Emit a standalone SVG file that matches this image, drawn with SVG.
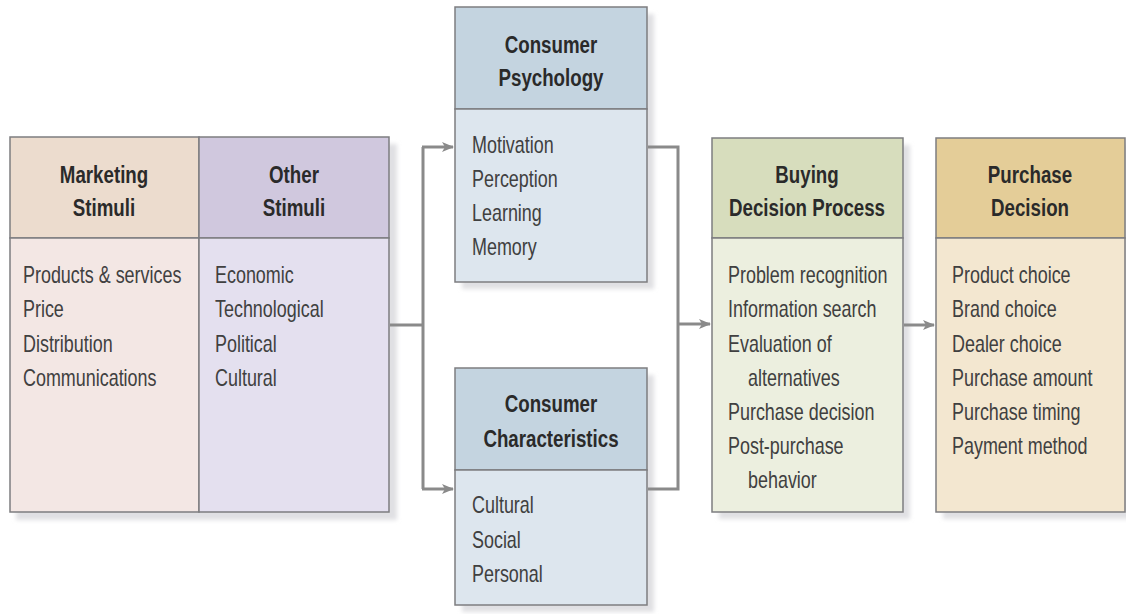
<svg xmlns="http://www.w3.org/2000/svg" width="1126" height="614" viewBox="0 0 1126 614">
<defs>
<filter id="sh" x="-10%" y="-10%" width="130%" height="130%"><feGaussianBlur stdDeviation="2"/></filter>
<marker id="ah" markerWidth="12" markerHeight="10" refX="11" refY="5" orient="auto" markerUnits="userSpaceOnUse">
<path d="M0,0 L12,5 L0,10 L3,5 Z" fill="#8a8a8a"/>
</marker>
<style>
.box{stroke:#7d7d80;stroke-width:1.5}
.shadow{fill:#e0e0e3;filter:url(#sh)}
.h{font-family:"Liberation Sans",Arial,sans-serif;font-weight:bold;font-size:24px;fill:#2a2a2a;text-anchor:middle}
.b{font-family:"Liberation Sans",Arial,sans-serif;font-size:23px;fill:#404040}
.c{fill:none;stroke:#8a8a8a;stroke-width:3}
</style>
</defs>
<rect width="1126" height="614" fill="#ffffff"/>

<g id="stimuli">
<rect class="shadow" x="16" y="144" width="381" height="376"/>
<rect x="10" y="137" width="189" height="101" fill="#ecdcce" class="box"/>
<rect x="10" y="238" width="189" height="274" fill="#f3e7e4" class="box"/>
<rect x="199" y="137" width="190" height="101" fill="#d0c8de" class="box"/>
<rect x="199" y="238" width="190" height="274" fill="#e4e0ef" class="box"/>
<text class="h" transform="translate(104,183) scale(0.78,1)">Marketing</text>
<text class="h" transform="translate(104,216) scale(0.78,1)">Stimuli</text>
<text class="h" transform="translate(294,183) scale(0.78,1)">Other</text>
<text class="h" transform="translate(294,216) scale(0.78,1)">Stimuli</text>
<text class="b" transform="translate(23,283) scale(0.78,1)">Products &amp; services</text>
<text class="b" transform="translate(23,317) scale(0.78,1)">Price</text>
<text class="b" transform="translate(23,352) scale(0.78,1)">Distribution</text>
<text class="b" transform="translate(23,386) scale(0.78,1)">Communications</text>
<text class="b" transform="translate(215,283) scale(0.78,1)">Economic</text>
<text class="b" transform="translate(215,317) scale(0.78,1)">Technological</text>
<text class="b" transform="translate(215,352) scale(0.78,1)">Political</text>
<text class="b" transform="translate(215,386) scale(0.78,1)">Cultural</text>
</g>

<g id="psychology">
<rect class="shadow" x="462" y="14" width="192" height="275"/>
<rect x="455" y="7" width="192" height="102" fill="#c4d4e0" class="box"/>
<rect x="455" y="109" width="192" height="173" fill="#dde6ee" class="box"/>
<text class="h" transform="translate(551,53) scale(0.78,1)">Consumer</text>
<text class="h" transform="translate(551,86) scale(0.78,1)">Psychology</text>
<text class="b" transform="translate(472,153) scale(0.78,1)">Motivation</text>
<text class="b" transform="translate(472,187) scale(0.78,1)">Perception</text>
<text class="b" transform="translate(472,221) scale(0.78,1)">Learning</text>
<text class="b" transform="translate(472,255) scale(0.78,1)">Memory</text>
</g>

<g id="characteristics">
<rect class="shadow" x="462" y="375" width="192" height="237"/>
<rect x="455" y="368" width="192" height="102" fill="#c4d4e0" class="box"/>
<rect x="455" y="470" width="192" height="135" fill="#dde6ee" class="box"/>
<text class="h" transform="translate(551,412) scale(0.78,1)">Consumer</text>
<text class="h" transform="translate(551,447) scale(0.78,1)">Characteristics</text>
<text class="b" transform="translate(472,513) scale(0.78,1)">Cultural</text>
<text class="b" transform="translate(472,548) scale(0.78,1)">Social</text>
<text class="b" transform="translate(472,582) scale(0.78,1)">Personal</text>
</g>

<g id="buying">
<rect class="shadow" x="719" y="145" width="191" height="374"/>
<rect x="712" y="138" width="191" height="100" fill="#d7ddbd" class="box"/>
<rect x="712" y="238" width="191" height="274" fill="#ecefdf" class="box"/>
<text class="h" transform="translate(807,183) scale(0.78,1)">Buying</text>
<text class="h" transform="translate(807,216) scale(0.78,1)">Decision Process</text>
<text class="b" transform="translate(728,283) scale(0.78,1)">Problem recognition</text>
<text class="b" transform="translate(728,317) scale(0.78,1)">Information search</text>
<text class="b" transform="translate(728,352) scale(0.78,1)">Evaluation of</text>
<text class="b" transform="translate(748,386) scale(0.78,1)">alternatives</text>
<text class="b" transform="translate(728,420) scale(0.78,1)">Purchase decision</text>
<text class="b" transform="translate(728,454) scale(0.78,1)">Post-purchase</text>
<text class="b" transform="translate(748,488) scale(0.78,1)">behavior</text>
</g>

<g id="purchase">
<rect class="shadow" x="943" y="145" width="190" height="374"/>
<rect x="936" y="138" width="189" height="100" fill="#e4cd98" class="box"/>
<rect x="936" y="238" width="189" height="274" fill="#f3e7d0" class="box"/>
<text class="h" transform="translate(1030,183) scale(0.78,1)">Purchase</text>
<text class="h" transform="translate(1030,216) scale(0.78,1)">Decision</text>
<text class="b" transform="translate(952,283) scale(0.78,1)">Product choice</text>
<text class="b" transform="translate(952,317) scale(0.78,1)">Brand choice</text>
<text class="b" transform="translate(952,352) scale(0.78,1)">Dealer choice</text>
<text class="b" transform="translate(952,386) scale(0.78,1)">Purchase amount</text>
<text class="b" transform="translate(952,420) scale(0.78,1)">Purchase timing</text>
<text class="b" transform="translate(952,454) scale(0.78,1)">Payment method</text>
</g>

<g id="connectors">
<path class="c" d="M390,325 H423"/>
<path class="c" d="M423,147 V489"/>
<path class="c" d="M422,147 H453" marker-end="url(#ah)"/>
<path class="c" d="M422,489 H453" marker-end="url(#ah)"/>
<path class="c" d="M648,147 H678 V489 H648"/>
<path class="c" d="M678,324 H710" marker-end="url(#ah)"/>
<path class="c" d="M904,325 H934" marker-end="url(#ah)"/>
</g>
</svg>
